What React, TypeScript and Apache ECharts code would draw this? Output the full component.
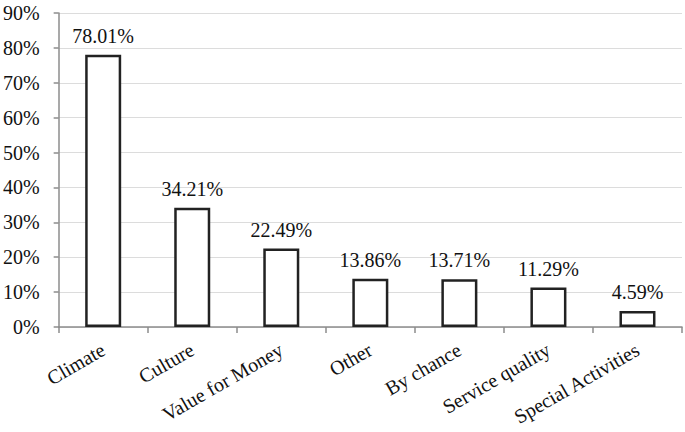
import React, { useEffect, useRef } from "react";
import * as echarts from "echarts";

const categories = ["Climate", "Culture", "Value for Money", "Other", "By chance", "Service quality", "Special Activities"];
const values = [78.01, 34.21, 22.49, 13.86, 13.71, 11.29, 4.59];

export default function App() {
  const ref = useRef<HTMLDivElement>(null);
  useEffect(() => {
    const chart = echarts.init(ref.current!, undefined, { renderer: "svg" });
    const font = "Times New Roman, Liberation Serif, serif";
    chart.setOption({
      animation: false,
      backgroundColor: "#fff",
      textStyle: { fontFamily: font },
      grid: { left: 57, right: 3, top: 13, bottom: 105 },
      xAxis: {
        type: "category",
        data: categories,
        axisLine: { lineStyle: { color: "#8c8c8c", width: 1.5 } },
        axisTick: { show: true, alignWithLabel: false, length: 6, lineStyle: { color: "#8c8c8c", width: 1.5 } },
        axisLabel: { rotate: 30, interval: 0, fontFamily: font, fontSize: 20, color: "#111", margin: 21 },
      },
      yAxis: {
        type: "value",
        min: 0,
        max: 90,
        interval: 10,
        axisLine: { show: true, lineStyle: { color: "#8c8c8c", width: 1.5 } },
        axisTick: { show: true, length: 5, lineStyle: { color: "#8c8c8c", width: 1.5 } },
        splitLine: { lineStyle: { color: "#dcdcdc", width: 1.2 } },
        axisLabel: { formatter: "{value}%", fontFamily: font, fontSize: 20, color: "#111", margin: 19 },
      },
      series: [
        {
          type: "bar",
          data: values,
          barWidth: 36,
          itemStyle: { color: "#fff", borderColor: "#222", borderWidth: 2.5 },
          label: {
            show: true,
            position: "top",
            distance: 9,
            formatter: (p: any) => p.value.toFixed(2) + "%",
            fontFamily: font,
            fontSize: 20,
            color: "#111",
          },
        },
      ],
    });
    return () => chart.dispose();
  }, []);
  return <div ref={ref} style={{ width: 685, height: 432, position: "absolute", left: 0, top: 0 }} />;
}
